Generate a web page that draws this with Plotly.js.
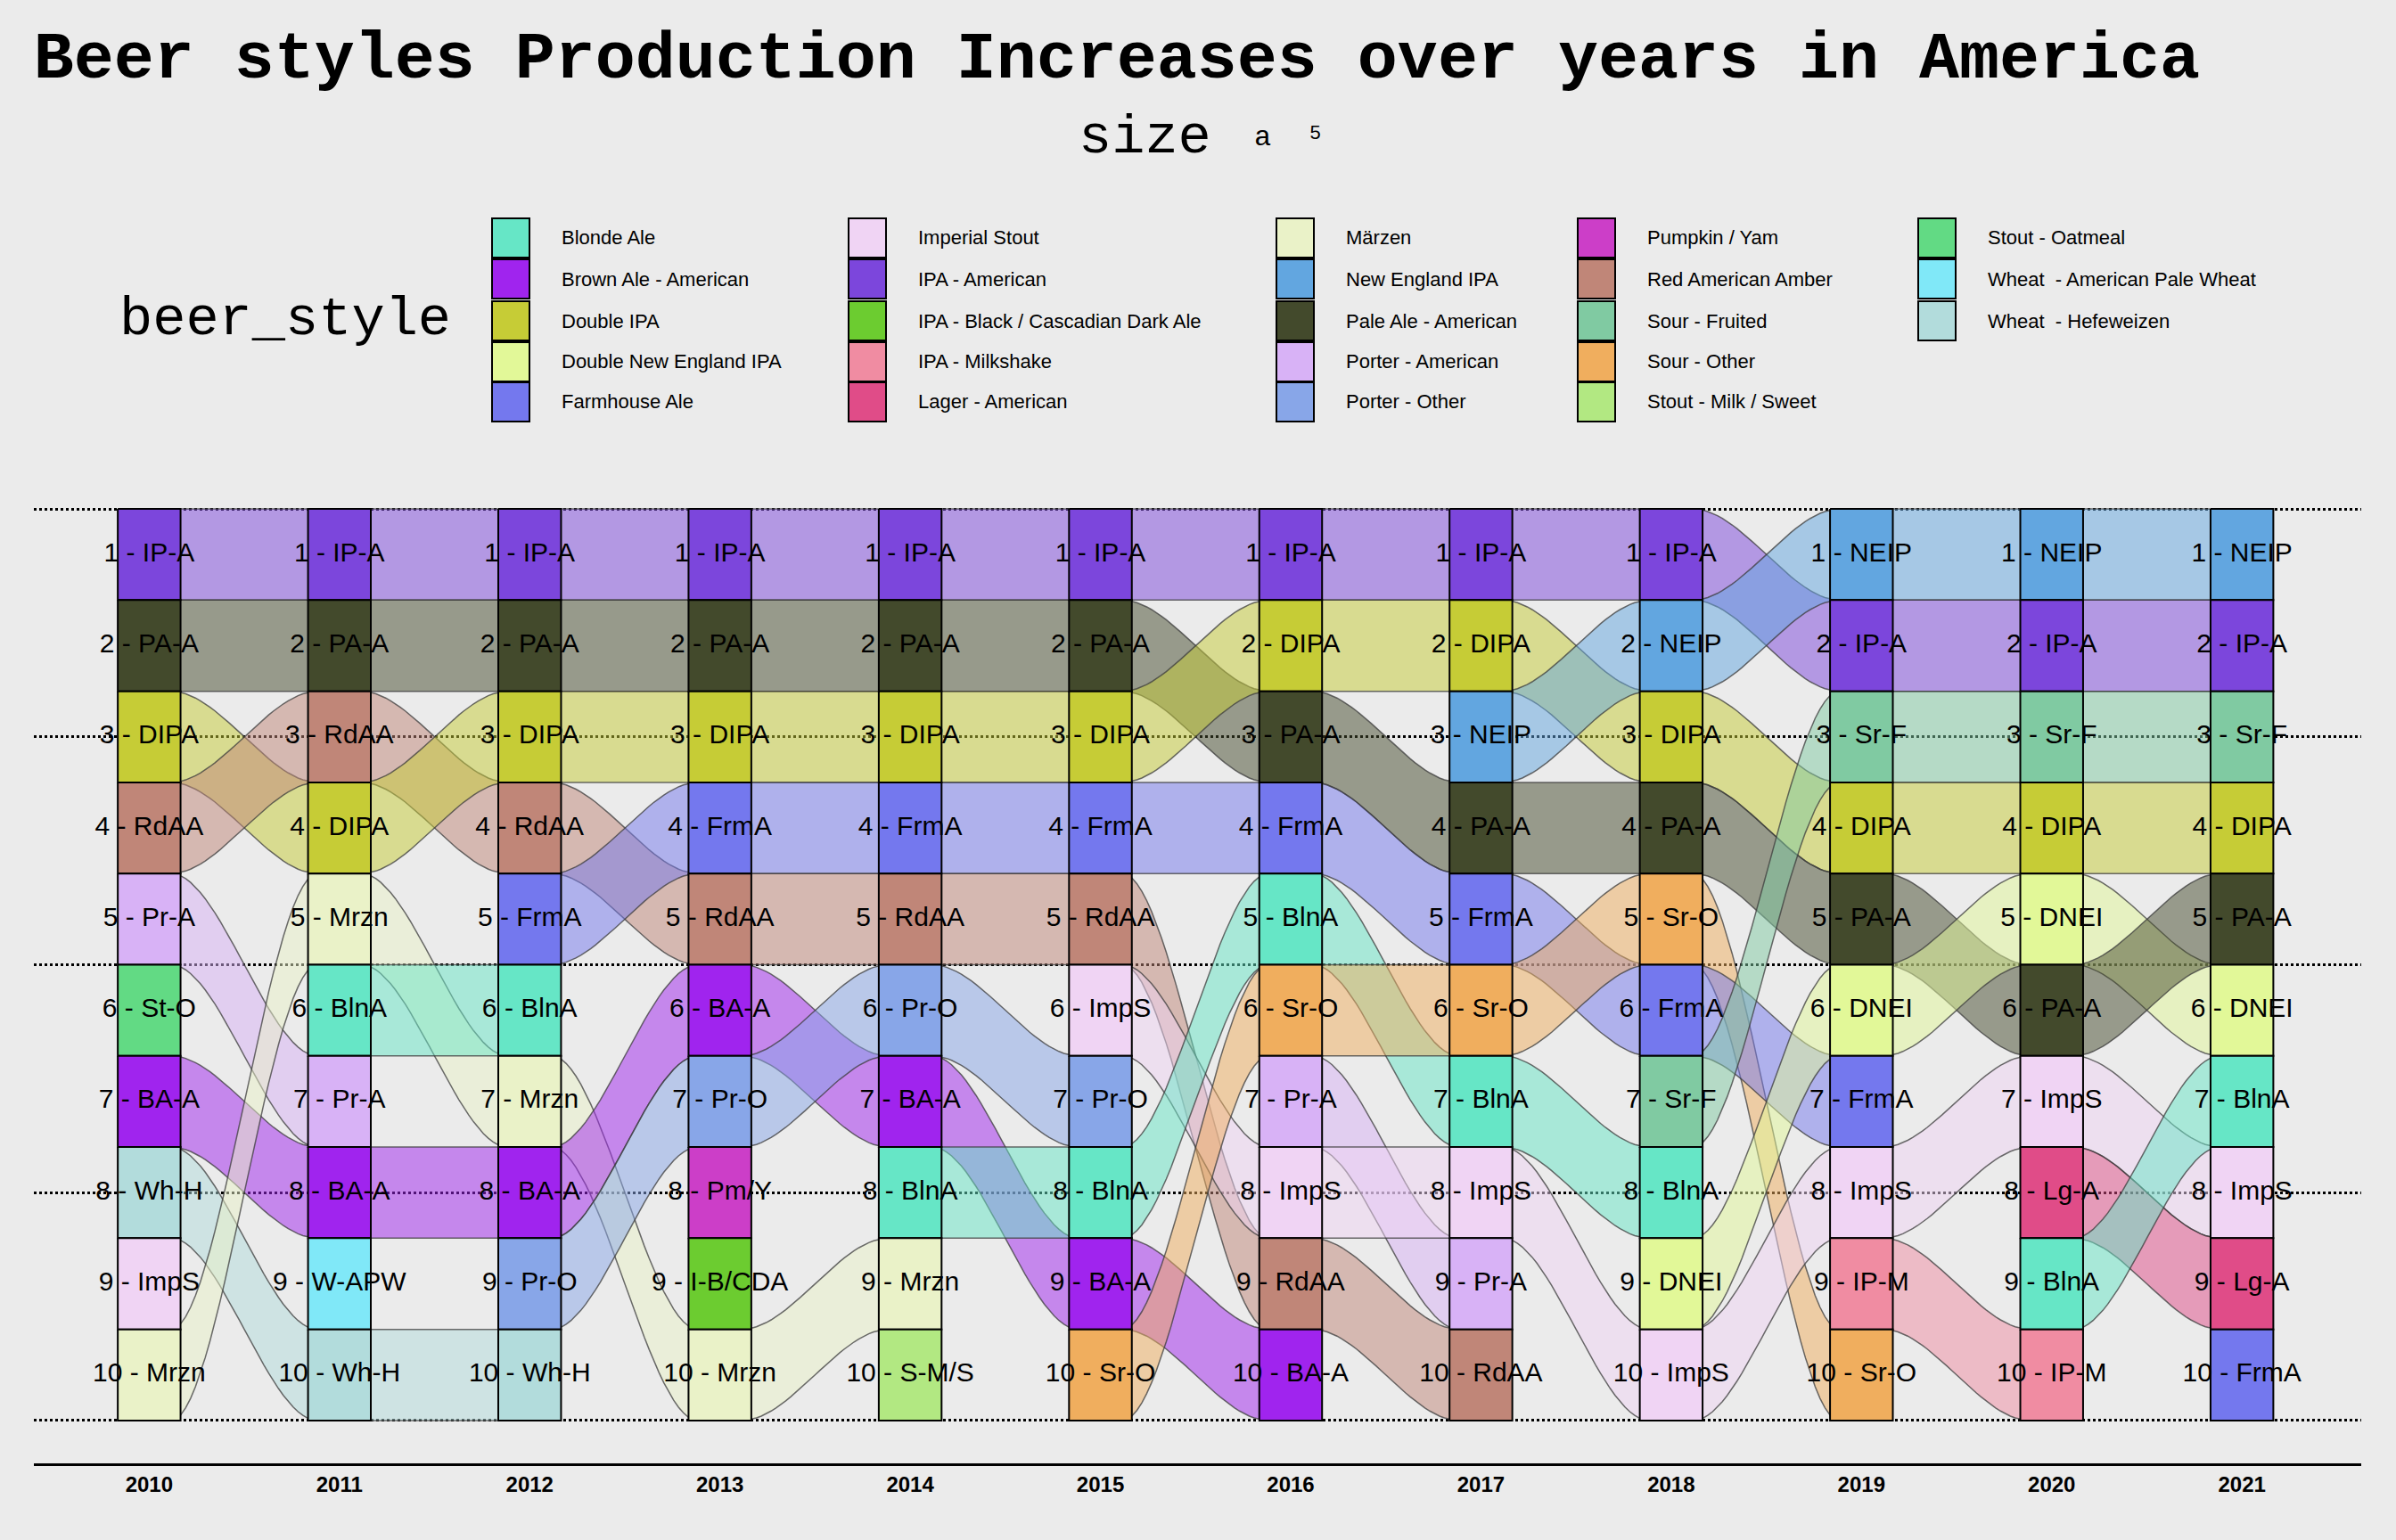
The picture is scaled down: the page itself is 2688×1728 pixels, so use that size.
<!DOCTYPE html>
<html><head><meta charset="utf-8">
<script src="https://cdn.plot.ly/plotly-3.0.1.min.js"></script>
<style>body{margin:0;background:#ebebeb}</style></head>
<body><div id="chart" style="width:2688px;height:1728px"></div>
<script>
const years = [2010,2011,2012,2013,2014,2015,2016,2017,2018,2019,2020,2021];
const rankings = [
 ["IP-A","PA-A","DIPA","RdAA","Pr-A","St-O","BA-A","Wh-H","ImpS","Mrzn"],
 ["IP-A","PA-A","RdAA","DIPA","Mrzn","BlnA","Pr-A","BA-A","W-APW","Wh-H"],
 ["IP-A","PA-A","DIPA","RdAA","FrmA","BlnA","Mrzn","BA-A","Pr-O","Wh-H"],
 ["IP-A","PA-A","DIPA","FrmA","RdAA","BA-A","Pr-O","Pm/Y","I-B/CDA","Mrzn"],
 ["IP-A","PA-A","DIPA","FrmA","RdAA","Pr-O","BA-A","BlnA","Mrzn","S-M/S"],
 ["IP-A","PA-A","DIPA","FrmA","RdAA","ImpS","Pr-O","BlnA","BA-A","Sr-O"],
 ["IP-A","DIPA","PA-A","FrmA","BlnA","Sr-O","Pr-A","ImpS","RdAA","BA-A"],
 ["IP-A","DIPA","NEIP","PA-A","FrmA","Sr-O","BlnA","ImpS","Pr-A","RdAA"],
 ["IP-A","NEIP","DIPA","PA-A","Sr-O","FrmA","Sr-F","BlnA","DNEI","ImpS"],
 ["NEIP","IP-A","Sr-F","DIPA","PA-A","DNEI","FrmA","ImpS","IP-M","Sr-O"],
 ["NEIP","IP-A","Sr-F","DIPA","DNEI","PA-A","ImpS","Lg-A","BlnA","IP-M"],
 ["NEIP","IP-A","Sr-F","DIPA","PA-A","DNEI","BlnA","ImpS","Lg-A","FrmA"]
];
const styleNames = ["Blonde Ale","Brown Ale - American","Double IPA","Double New England IPA","Farmhouse Ale",
 "Imperial Stout","IPA - American","IPA - Black / Cascadian Dark Ale","IPA - Milkshake","Lager - American",
 "Märzen","New England IPA","Pale Ale - American","Porter - American","Porter - Other",
 "Pumpkin / Yam","Red American Amber","Sour - Fruited","Sour - Other","Stout - Milk / Sweet",
 "Stout - Oatmeal","Wheat  - American Pale Wheat","Wheat  - Hefeweizen"];
const styleAbbr = ["BlnA","BA-A","DIPA","DNEI","FrmA","ImpS","IP-A","I-B/CDA","IP-M","Lg-A",
 "Mrzn","NEIP","PA-A","Pr-A","Pr-O","Pm/Y","RdAA","Sr-F","Sr-O","S-M/S","St-O","W-APW","Wh-H"];
const styleColors = ["#66e6c6","#a024ee","#c6cc36","#e2f898","#7478ee",
 "#f0d4f4","#7c46dc","#6ccc30","#f08ca2","#e04c88",
 "#eaf2c8","#62a6e0","#434a2c","#d8b2f6","#88a6e8",
 "#cc3ec8","#c08678","#80caa2","#f0ae5e","#b2e882",
 "#62da84","#80e8f8","#b2dcdc"];

const W = 0.165;
function colorOf(ab){return styleColors[styleAbbr.indexOf(ab)];}
function rgba(hex,a){const n=parseInt(hex.slice(1),16);return `rgba(${n>>16},${(n>>8)&255},${n&255},${a})`;}
const traces = [];
for(let i=0;i<years.length-1;i++){
  rankings[i].forEach((ab,k)=>{
    const j = rankings[i+1].indexOf(ab);
    if(j<0) return;
    const r0=k+1, r1=j+1, x0=years[i]+W, x1=years[i+1]-W;
    const xs=[], ys=[]; const N=30;
    for(let s=0;s<=N;s++){const t=s/N, e=3*t*t-2*t*t*t; xs.push(x0-0.05+(x1-x0+0.1)*t); ys.push(r0-0.5+(r1-r0)*e);}
    for(let s=N;s>=0;s--){const t=s/N, e=3*t*t-2*t*t*t; xs.push(x0-0.05+(x1-x0+0.1)*t); ys.push(r0+0.5+(r1-r0)*e);}
    traces.push({x:xs,y:ys,mode:'lines',fill:'toself',fillcolor:rgba(colorOf(ab),0.5),
      line:{color:'rgba(60,60,60,0.75)',width:1.5},hoverinfo:'skip',showlegend:false});
  });
}
years.forEach((yr,i)=>{
  rankings[i].forEach((ab,k)=>{
    const r=k+1;
    traces.push({x:[yr-W,yr+W,yr+W,yr-W,yr-W],y:[r-0.5,r-0.5,r+0.5,r+0.5,r-0.5],mode:'lines',fill:'toself',
      fillcolor:colorOf(ab),line:{color:'black',width:2},hoverinfo:'skip',showlegend:false});
  });
});
const lx=[],ly=[],lt=[];
years.forEach((yr,i)=>rankings[i].forEach((ab,k)=>{lx.push(yr);ly.push(k+1);lt.push((k+1)+" - "+ab);}));
traces.push({x:lx,y:ly,text:lt,mode:'text',textfont:{family:'Liberation Sans, Arial',size:30,color:'black'},hoverinfo:'skip',showlegend:false});

// manual legend (paper coords converted from pixel positions)
const PL=38, PW=2611, PT=523, PH=1119;
const px=X=>(X-PL)/PW, py=Y=>1+(PT-Y)/PH;
const colX=[552,952,1432,1770,2152], rowY=[267,313,360,406,451];
const shapes=[], annotations=[];
styleNames.forEach((nm,idx)=>{
  const c=Math.floor(idx/5), r=idx%5, X=colX[c], Y=rowY[r];
  shapes.push({type:'rect',xref:'paper',yref:'paper',x0:px(X),x1:px(X+42),y0:py(Y-22),y1:py(Y+22),
    fillcolor:styleColors[idx],line:{color:'black',width:2}});
  annotations.push({text:nm,xref:'paper',yref:'paper',x:px(X+76),y:py(Y),xanchor:'left',yanchor:'middle',showarrow:false,
    font:{family:'Liberation Sans, Arial',size:22,color:'black'}});
});
annotations.push({text:'beer_style',xref:'paper',yref:'paper',x:px(132),y:py(358),xanchor:'left',yanchor:'middle',showarrow:false,
  font:{family:'Liberation Mono, Courier New, monospace',size:62,color:'black'}});
annotations.push({text:'size',xref:'paper',yref:'paper',x:px(1208),y:py(155),xanchor:'left',yanchor:'middle',showarrow:false,
  font:{family:'Liberation Mono, monospace',size:62,color:'black'}});
annotations.push({text:'a',xref:'paper',yref:'paper',x:px(1405),y:py(155),xanchor:'left',yanchor:'middle',showarrow:false,
  font:{family:'Liberation Mono, monospace',size:32,color:'black'}});
annotations.push({text:'5',xref:'paper',yref:'paper',x:px(1467),y:py(150),xanchor:'left',yanchor:'middle',showarrow:false,
  font:{family:'Liberation Mono, monospace',size:22,color:'black'}});

const layout = {
  width:2688,height:1728,paper_bgcolor:'#ebebeb',plot_bgcolor:'#ebebeb',
  margin:{l:PL,r:39,t:PT,b:86},
  title:{text:'Beer styles Production Increases over years in America',x:0.014,xanchor:'left',y:0.965,yanchor:'middle',
    font:{family:'Liberation Mono, Courier New, monospace',size:75,color:'black',weight:'bold'}},
  xaxis:{range:[2010-0.606,2021+0.627],tickvals:years,ticktext:years.map(y=>'<b>'+y+'</b>'),showgrid:false,zeroline:false,
    showline:true,linecolor:'black',linewidth:2.5,ticks:'',tickfont:{family:'Liberation Sans, Arial',size:24,color:'black'}},
  yaxis:{range:[10.97,0.03],tickvals:[0.5,3,5.5,8,10.5],showticklabels:false,showgrid:true,griddash:'dot',
    gridcolor:'black',gridwidth:2.5,zeroline:false,ticks:''},
  showlegend:false,
  shapes:shapes, annotations:annotations
};
Plotly.newPlot('chart',traces,layout,{displayModeBar:false});
</script></body></html>
